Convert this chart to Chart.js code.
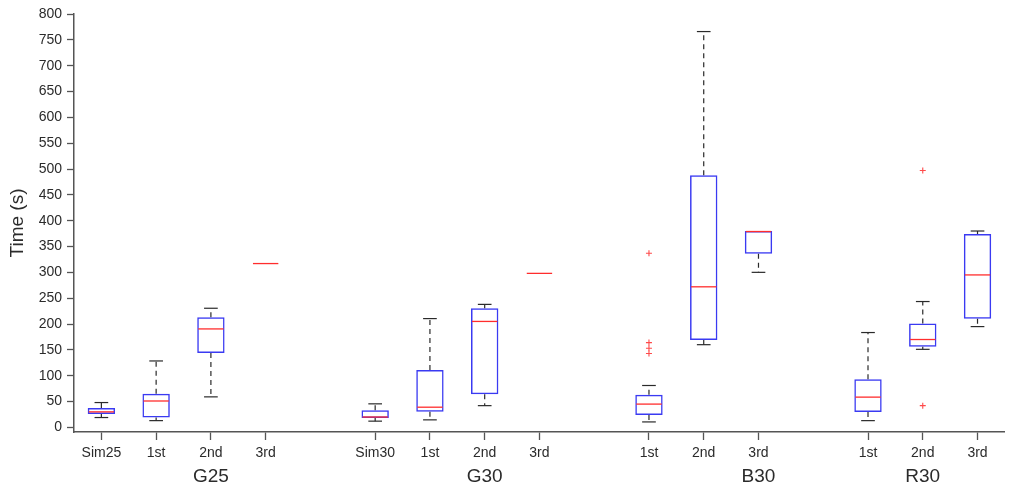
<!DOCTYPE html>
<html>
<head>
<meta charset="utf-8">
<script src="https://cdn.jsdelivr.net/npm/chart.js@4"></script>
<style>
  html, body { margin: 0; padding: 0; background: #fff; }
  #wrap { width: 1010px; height: 491px; }
</style>
</head>
<body>
<div id="wrap"><canvas id="timeChart"></canvas></div>
<script>
// x slots (17 positions, empty strings are gaps between groups)
const tickLabels = ['Sim25', '1st', '2nd', '3rd', '', 'Sim30', '1st', '2nd', '3rd', '', '1st', '2nd', '3rd', '', '1st', '2nd', '3rd'];
const groupNames = ['G25', 'G30', 'B30', 'R30'];
const groupSlots = [2, 7, 12, 15];
const yTickValues = [0, 50, 100, 150, 200, 250, 300, 350, 400, 450, 500, 550, 600, 650, 700, 750, 800];

// one entry per box, in slot order
const boxSlots    = [0, 1, 2, 3, 5, 6, 7, 8, 10, 11, 12, 14, 15, 16];
const whiskerLow  = [19, 13, 59, 317, 12, 14.5, 42, 298, 10.5, 160, 300, 13, 151, 195];
const q1          = [26, 19, 144, 317, 18, 30, 64, 298, 24, 169, 336, 29.5, 156, 210];
const medians     = [30, 51, 190.5, 317, 20, 39, 205, 298, 45, 272, 379, 58.5, 170, 295];
const q3          = [37.5, 65, 213, 317, 33, 111, 230.5, 298, 63, 488, 380, 93, 201, 374];
const whiskerHigh = [48, 128.5, 230.5, 317, 45.5, 210.5, 238, 298, 81, 766, 380, 183.5, 243.5, 380];

// outliers
const outlierSlots  = [10, 10, 10, 10, 15, 15];
const outlierValues = [337, 164, 153, 143, 497, 42];

const boxData = tickLabels.map((_, i) => {
    const k = boxSlots.indexOf(i);
    return k < 0 ? null : [q1[k], q3[k]];
});
const outlierData = outlierSlots.map((s, i) => ({ x: s, y: outlierValues[i] }));

const FONT = "'Liberation Sans', Arial, sans-serif";

const whiskerPlugin = {
    id: 'whiskers',
    afterDatasetsDraw(chart) {
        const ctx = chart.ctx;
        const xs = chart.scales.x;
        const ys = chart.scales.y;
        const bars = chart.getDatasetMeta(0).data;
        ctx.save();
        boxSlots.forEach((slot, k) => {
            const x = xs.getPixelForValue(slot);
            const w = bars[slot] ? bars[slot].width : 27;
            const cap = w / 4;
            const yLo = ys.getPixelForValue(whiskerLow[k]);
            const yQ1 = ys.getPixelForValue(q1[k]);
            const yQ3 = ys.getPixelForValue(q3[k]);
            const yHi = ys.getPixelForValue(whiskerHigh[k]);
            const yMed = ys.getPixelForValue(medians[k]);

            ctx.strokeStyle = '#2a2a2a';
            ctx.lineWidth = 1.2;
            ctx.setLineDash([5, 4]);
            ctx.beginPath();
            ctx.moveTo(x, yQ3); ctx.lineTo(x, yHi);
            ctx.moveTo(x, yQ1); ctx.lineTo(x, yLo);
            ctx.stroke();
            ctx.setLineDash([]);
            if (whiskerHigh[k] > q3[k]) {
                ctx.beginPath();
                ctx.moveTo(x - cap, yHi); ctx.lineTo(x + cap, yHi);
                ctx.stroke();
            }
            if (whiskerLow[k] < q1[k]) {
                ctx.beginPath();
                ctx.moveTo(x - cap, yLo); ctx.lineTo(x + cap, yLo);
                ctx.stroke();
            }

            ctx.strokeStyle = '#ff2d2d';
            ctx.lineWidth = 1.3;
            ctx.beginPath();
            ctx.moveTo(x - w / 2 + 1, yMed); ctx.lineTo(x + w / 2 - 1, yMed);
            ctx.stroke();
        });

        // group names under the axis
        ctx.fillStyle = '#2b2b2b';
        ctx.font = '19px ' + FONT;
        ctx.textAlign = 'center';
        ctx.textBaseline = 'middle';
        groupNames.forEach((g, i) => {
            ctx.fillText(g, xs.getPixelForValue(groupSlots[i]), chart.chartArea.bottom + 45);
        });
        ctx.restore();
    }
};

const ctx = document.getElementById('timeChart').getContext('2d');
new Chart(ctx, {
    data: {
        labels: tickLabels,
        datasets: [{
            type: 'bar',
            data: boxData,
            grouped: false,
            backgroundColor: 'rgba(0,0,0,0)',
            borderColor: '#3a3af2',
            borderWidth: 1.5,
            borderSkipped: false,
            barPercentage: 0.5,
            categoryPercentage: 1
        }, {
            type: 'scatter',
            xAxisID: 'xPos',
            data: outlierData,
            pointStyle: 'cross',
            radius: 3,
            borderWidth: 1.1,
            borderColor: '#ff4a4a'
        }]
    },
    options: {
        responsive: true,
        maintainAspectRatio: false,
        animation: false,
        events: [],
        layout: { padding: { top: 14, left: 0, right: 0, bottom: 0 } },
        plugins: {
            legend: { display: false },
            tooltip: { enabled: false }
        },
        scales: {
            x: {
                type: 'category',
                offset: true,
                afterFit: s => { s.height = 59; s.paddingLeft = 0; s.paddingRight = 0; },
                grid: {
                    offset: false,
                    drawOnChartArea: false,
                    drawTicks: true,
                    tickLength: 8,
                    tickWidth: 1.3,
                    tickColor: c => tickLabels[c.index] ? '#555' : 'rgba(0,0,0,0)'
                },
                border: { display: true, color: '#555', width: 1.5 },
                ticks: {
                    color: '#2b2b2b',
                    font: { family: FONT, size: 14 },
                    padding: 5,
                    maxRotation: 0,
                    autoSkip: false
                }
            },
            // hidden numeric twin of x, for the outlier points
            xPos: {
                type: 'linear',
                display: false,
                min: -0.5,
                max: tickLabels.length - 0.5
            },
            y: {
                type: 'linear',
                min: -9,
                max: 800,
                afterFit: s => { s.width = 74; },
                afterBuildTicks: s => { s.ticks = yTickValues.map(v => ({ value: v })); },
                grid: {
                    drawOnChartArea: false,
                    drawTicks: true,
                    tickLength: 7,
                    tickWidth: 1.3,
                    tickColor: '#555'
                },
                border: { display: true, color: '#555', width: 1.5 },
                ticks: {
                    color: '#2b2b2b',
                    font: { family: FONT, size: 14 },
                    padding: 5
                },
                title: {
                    display: true,
                    text: 'Time (s)',
                    color: '#2b2b2b',
                    font: { family: FONT, size: 19 },
                    padding: { top: 6, bottom: 0 }
                }
            }
        }
    },
    plugins: [whiskerPlugin]
});
</script>
</body>
</html>
